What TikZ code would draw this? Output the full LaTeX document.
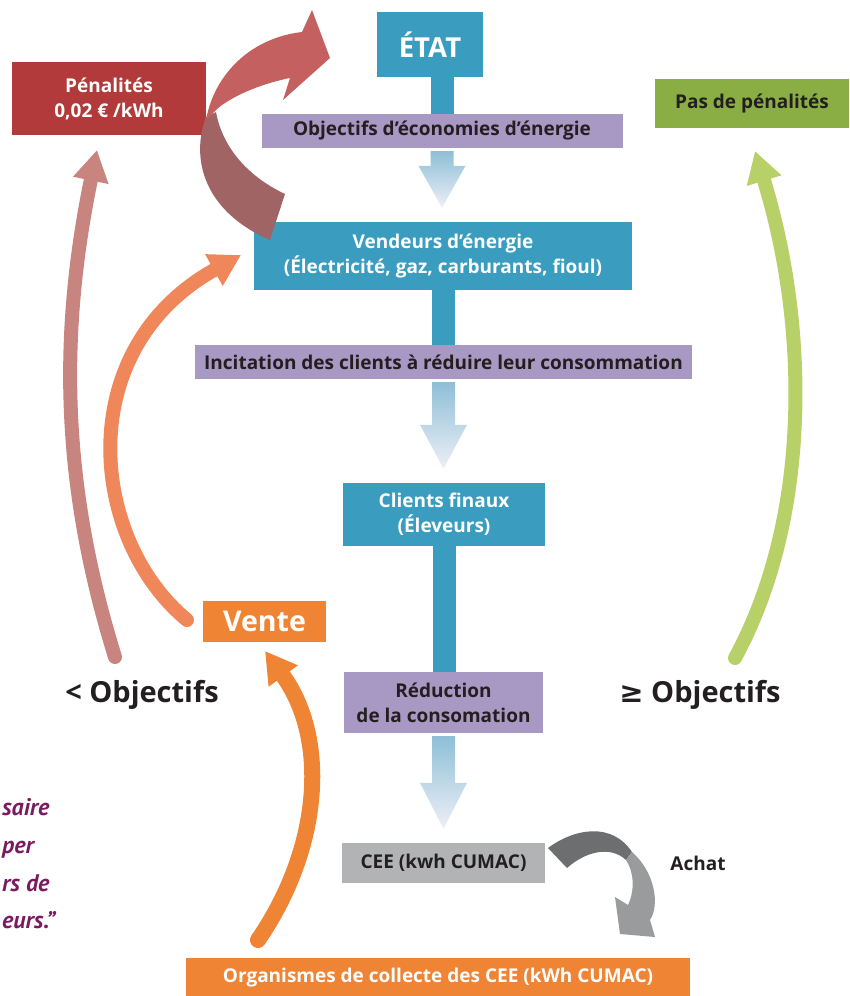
\documentclass[tikz,border=0pt]{standalone}
\usepackage{fontspec}
\setmainfont{Open Sans}
\newfontfamily\symfont{DejaVu Sans}
\newfontfamily\quotefont{PT Sans}
\usetikzlibrary{arrows.meta,calc}

\definecolor{cteal}{RGB}{58,157,191}
\definecolor{clila}{RGB}{168,152,196}
\definecolor{cred}{RGB}{179,58,58}
\definecolor{cgreen}{RGB}{138,174,68}
\definecolor{corange}{RGB}{239,132,53}
\definecolor{cgray}{RGB}{178,179,181}
\definecolor{ctext}{RGB}{35,31,32}
\definecolor{garrtop}{RGB}{142,191,214}
\definecolor{garrbot}{RGB}{238,239,247}
\definecolor{redup}{RGB}{196,96,96}
\definecolor{reddown}{RGB}{160,100,100}
\definecolor{cpink}{RGB}{200,132,126}
\definecolor{csalmon}{RGB}{240,135,90}
\definecolor{clime}{RGB}{184,208,104}
\definecolor{graydark}{RGB}{109,110,112}
\definecolor{graylight}{RGB}{154,155,157}
\definecolor{cplum}{RGB}{123,26,96}

\tikzset{
  box/.style={rectangle, inner sep=0pt, align=center,
    font=\bfseries\fontsize{19}{25}\selectfont},
  tealbox/.style={box, fill=cteal, text=white},
  lilabox/.style={box, fill=clila, text=ctext},
  colbar/.style={cteal, line width=23pt},
  curvearrow/.style={line width=14pt, line cap=round,
    -{Triangle[length=31pt,width=34pt]}},
  bigtext/.style={font=\bfseries\fontsize{29}{34}\selectfont, text=ctext},
  quoteline/.style={anchor=base west, inner sep=0pt, text=cplum,
    font=\quotefont\bfseries\itshape\fontsize{24}{28}\selectfont},
}

% shaded arrow between two boxes of the column
\newcommand{\gradarrow}[3]{%
  \shade[top color=garrtop, bottom color=garrbot]
    let \p1=(#1.south), \p2=(#2.north) in
    (\x1-11.5pt,\y1-3pt) -- (\x1+11.5pt,\y1-3pt) -- (\x1+11.5pt,\y2+#3)
    -- (\x1+23.5pt,\y2+#3) -- (\x1,\y2+14pt) -- (\x1-23.5pt,\y2+#3)
    -- (\x1-11.5pt,\y2+#3) -- cycle;}

\begin{document}
\begin{tikzpicture}[x=1pt,y=-1pt]
\useasboundingbox (0,0) rectangle (850,996);
\clip (0,0) rectangle (850,996);

% main column
\node[tealbox, minimum width=106pt, minimum height=65pt,
  font=\bfseries\fontsize{27.5}{32}\selectfont] (etat) at (430,44.5) {ÉTAT};
\node[lilabox, minimum width=361pt, minimum height=34pt] (obj) at (442,131)
  {Objectifs d’économies d’énergie};
\node[tealbox, minimum width=378pt, minimum height=68pt] (vend) at (443,256)
  {Vendeurs d’énergie\\(Électricité, gaz, carburants, fioul)};
\node[lilabox, minimum width=497pt, minimum height=34pt] (incit) at (443.5,362)
  {Incitation des clients à réduire leur consommation};
\node[tealbox, minimum width=202pt, minimum height=63pt] (clients) at (444,514.5)
  {Clients finaux\\(Éleveurs)};
\node[lilabox, minimum width=199pt, minimum height=61pt] (reduc) at (443.5,702.5)
  {Réduction\\de la consomation};
\node[box, fill=cgray, text=ctext, minimum width=203pt, minimum height=40pt] (cee)
  at (443.5,863) {CEE (kwh CUMAC)};
\node[box, fill=corange, text=white, minimum width=504pt, minimum height=40pt] (collect)
  at (438,978) {Organismes de collecte des CEE (kWh CUMAC)};

% side boxes
\node[box, fill=cred, text=white, minimum width=194pt, minimum height=73pt] (penal)
  at (109,98.5) {Pénalités\\0,02 € /kWh};
\node[box, fill=cgreen, text=ctext, minimum width=194pt, minimum height=49pt] (pasde)
  at (752,103.5) {Pas de pénalités};
\node[box, fill=corange, text=white, minimum width=123pt, minimum height=41pt,
  font=\bfseries\fontsize{28.5}{32}\selectfont] (vente) at (264.5,621.5) {Vente};
\node[bigtext] (moins) at (142,695) {< Objectifs};
\node[bigtext] (plus) at (700,695) {{\symfont ≥} Objectifs};
\node[font=\bfseries\fontsize{19}{23}\selectfont, text=ctext] (achat) at (698,863) {Achat};

\node[quoteline] (q1) at (2,815) {saire};
\node[quoteline] (q2) at (2,853) {per};
\node[quoteline] (q3) at (2,891) {rs de};
\node[quoteline] (q4) at (2,928) {eurs.”};

% bars and shaded arrows
\draw[colbar] (obj.north |- etat.south) -- (obj.north);
\draw[colbar] (vend.south) -- (incit.north -| vend.south);
\draw[colbar] (clients.south) -- (reduc.north -| clients.south);
\gradarrow{obj}{vend}{56pt}
\gradarrow{incit}{clients}{58pt}
\gradarrow{reduc}{cee}{60pt}

% side arrows
\coordinate (pinkstart) at (115,657);
\coordinate (pinkend) at (97,150);
\coordinate (salstart) at (187,620);
\coordinate (salend) at (241,255);
\coordinate (orstart) at (258,940);
\coordinate (orend) at (265,651);
\coordinate (limestart) at (735,658);
\coordinate (limeend) at (755,151);
\draw[curvearrow, cpink] (pinkstart) .. controls (60,480) and (60,330) .. (pinkend);
\draw[curvearrow, csalmon] (salstart) .. controls (90,540) and (70,350) .. (salend);
\draw[curvearrow, corange, line width=16pt] (orstart) .. controls (320,850) and (330,740) .. (orend);
\draw[curvearrow, clime] (limestart) .. controls (810,520) and (810,330) .. (limeend);

% twisted arrow from the sellers to the state
\fill[reddown] (285,194) .. controls (245,175) and (222,145) .. (216,112)
  -- (206,117) .. controls (190,160) and (205,212) .. (270,240) -- cycle;
\fill[redup] (206,120) .. controls (214,75) and (250,38) .. (302,32)
  -- (312,10) -- (330,58) -- (283,100) -- (290,78)
  .. controls (255,85) and (225,100) .. (214,112) -- cycle;

% purchase arrow
\fill[graydark] (548,848) .. controls (575,828) and (612,822) .. (632,852)
  -- (626,860) .. controls (610,845) and (585,852) .. (567,868) -- cycle;
\fill[graylight] (632,852) .. controls (655,872) and (660,905) .. (650,920)
  -- (655,937) -- (620,934) -- (615,897) -- (628,905)
  .. controls (635,890) and (634,872) .. (626,860) -- cycle;
\end{tikzpicture}
\end{document}
